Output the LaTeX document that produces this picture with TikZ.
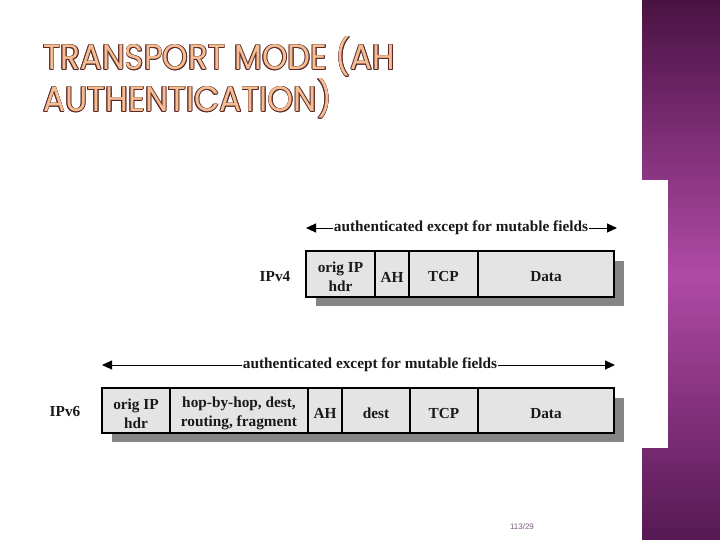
\documentclass[tikz,border=0pt]{standalone}
\usepackage{fontspec}
\usepackage{graphicx}
\setmainfont{Liberation Serif}
\newfontfamily\titlefont{Poppins}
\newfontfamily\pgfont{Liberation Sans}
\usetikzlibrary{arrows.meta,calc}
\definecolor{cellgray}{HTML}{E4E4E4}
\definecolor{shadowgray}{HTML}{858585}
\definecolor{bandtop}{HTML}{4A1243}
\definecolor{bandmid}{HTML}{B04AA6}
\definecolor{bandbot}{HTML}{561952}
\definecolor{titlefill}{HTML}{F5BE92}
\definecolor{titleedge}{HTML}{5A2A2A}
\definecolor{pgcol}{HTML}{7A5A80}
\newcommand{\TitleBox}[4]{\resizebox{#2}{#3}{\titlefont\color{#4}#1}}
\tikzset{
  cell/.style={draw=black, line width=2.6pt, fill=cellgray, outer sep=0pt, inner sep=0pt,
    anchor=north west},
  ctext/.style={align=center, font=\fontsize{15.3}{19}\selectfont\bfseries,
    text=black!90, inner sep=0pt, yshift=-3pt},
  rowlabel/.style={font=\fontsize{15.3}{19}\selectfont\bfseries, text=black!90},
  spanlabel/.style={font=\fontsize{15.3}{19}\selectfont\bfseries, text=black!90, inner sep=1pt},
  spanarrow/.style={line width=0.9pt, -{Triangle[length=10pt,width=9pt]}},
  titleln/.style={anchor=base west, inner sep=0pt, outer sep=0pt},
}
\begin{document}
\begin{tikzpicture}[x=1pt,y=-1pt]
\useasboundingbox (0,0) rectangle (720,540);
\fill[white] (0,0) rectangle (720,540);
% purple band
\shade[top color=bandtop, bottom color=bandmid, draw=none] (642,0) rectangle (720,275);
\shade[top color=bandmid, bottom color=bandbot, draw=none] (642,275) rectangle (720,540);
\fill[white] (640,180) rectangle (668,448);

% title (outlined)
\foreach \dx/\dy in {-0.9/0,0.9/0,0/-0.9,0/0.9,-0.65/-0.65,0.65/0.65,-0.65/0.65,0.65/-0.65}{
  \node[titleln] at ($(43,70)+(\dx,\dy)$) {\TitleBox{TRANSPORT MODE (AH}{352pt}{33pt}{titleedge}};
  \node[titleln] at ($(43,112)+(\dx,\dy)$) {\TitleBox{AUTHENTICATION)}{289pt}{33pt}{titleedge}};
}
\node[titleln] (t1) at (43,70) {\TitleBox{TRANSPORT MODE (AH}{352pt}{33pt}{titlefill}};
\node[titleln] (t2) at (43,112) {\TitleBox{AUTHENTICATION)}{289pt}{33pt}{titlefill}};

% IPv4 row
\fill[shadowgray] (316,261) rectangle (624,306);
\node[cell, minimum width=69pt, minimum height=46pt, label={[ctext]center:{orig IP\\hdr}}] (v4orig) at (306,251) {};
\node[cell, minimum width=34pt, minimum height=46pt, label={[ctext]center:AH}] (v4ah) at (375,251) {};
\node[cell, minimum width=69pt, minimum height=46pt, label={[ctext]center:TCP}] (v4tcp) at (409,251) {};
\node[cell, minimum width=136pt, minimum height=46pt, label={[ctext]center:Data}] (v4data) at (478,251) {};
\node[rowlabel] (v4lab) at (275,277) {IPv4};
\node[spanlabel] (v4span) at (461,228) {authenticated except for mutable fields};
\coordinate (v4l) at (306,228);
\coordinate (v4r) at (617,228);
\draw[spanarrow] (v4span.west) -- (v4l);
\draw[spanarrow] (v4span.east) -- (v4r);

% IPv6 row
\fill[shadowgray] (112,398) rectangle (624,442);
\node[cell, minimum width=68pt, minimum height=45pt, label={[ctext]center:{orig IP\\hdr}}] (v6orig) at (102,388) {};
\node[cell, minimum width=138pt, minimum height=45pt, label={[ctext]center:{hop-by-hop, dest,\\routing, fragment}}] (v6hop) at (170,388) {};
\node[cell, minimum width=34pt, minimum height=45pt, label={[ctext]center:AH}] (v6ah) at (308,388) {};
\node[cell, minimum width=68pt, minimum height=45pt, label={[ctext]center:dest}] (v6dest) at (342,388) {};
\node[cell, minimum width=68pt, minimum height=45pt, label={[ctext]center:TCP}] (v6tcp) at (410,388) {};
\node[cell, minimum width=136pt, minimum height=45pt, label={[ctext]center:Data}] (v6data) at (478,388) {};
\node[rowlabel] (v6lab) at (65,412) {IPv6};
\node[spanlabel] (v6span) at (370,365) {authenticated except for mutable fields};
\coordinate (v6l) at (102,365);
\coordinate (v6r) at (615,365);
\draw[spanarrow] (v6span.west) -- (v6l);
\draw[spanarrow] (v6span.east) -- (v6r);

% page number
\node[font=\pgfont\fontsize{8}{9}\selectfont, text=pgcol] (pg) at (522,527) {113/29};
\end{tikzpicture}
\end{document}
